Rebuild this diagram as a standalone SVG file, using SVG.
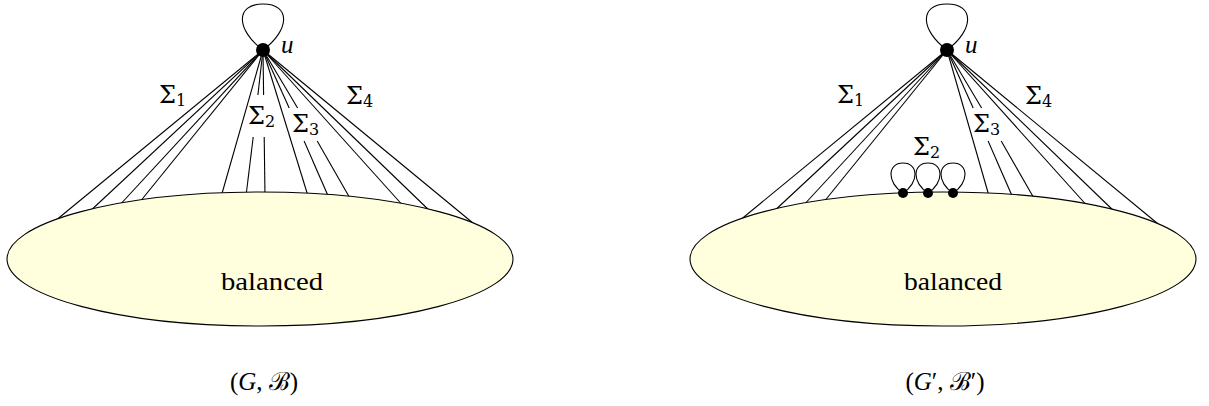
<svg xmlns="http://www.w3.org/2000/svg" width="1209" height="406" viewBox="0 0 1209 406">
<style>
.e{stroke:#000;stroke-width:1.1;fill:none}
.ell{fill:#ffffde;stroke:#000;stroke-width:1.1}
.lp{fill:none;stroke:#000;stroke-width:1.1}
.t{font-family:'Liberation Serif','DejaVu Serif',serif;fill:#000}
.sg{font-family:'DejaVu Serif','Liberation Serif',serif;font-size:24px;fill:#000}
.sb{font-size:16px}
.it{font-style:italic}
</style>
<rect width="1209" height="406" fill="#fff"/>
<!-- LEFT DIAGRAM -->
<g id="left">
<g id="connectors-left">
<line class="e" x1="263" y1="50" x2="49" y2="226"/>
<line class="e" x1="263" y1="50" x2="87" y2="214"/>
<line class="e" x1="263" y1="50" x2="117" y2="208"/>
<line class="e" x1="263" y1="50" x2="139" y2="203"/>
<line class="e" x1="263" y1="50" x2="221" y2="197"/>
<line class="e" x1="263" y1="50" x2="257.9" y2="95"/>
<line class="e" x1="253.2" y1="137" x2="246" y2="196"/>
<line class="e" x1="263" y1="50" x2="263.6" y2="95"/>
<line class="e" x1="264.2" y1="137" x2="265" y2="196"/>
<line class="e" x1="263" y1="50" x2="308" y2="196"/>
<line class="e" x1="263" y1="50" x2="289.2" y2="108"/>
<line class="e" x1="304.1" y1="141" x2="329" y2="198"/>
<line class="e" x1="263" y1="50" x2="297.6" y2="108"/>
<line class="e" x1="317.2" y1="141" x2="351" y2="200"/>
<line class="e" x1="263" y1="50" x2="406" y2="209"/>
<line class="e" x1="263" y1="50" x2="433" y2="214"/>
<line class="e" x1="263" y1="50" x2="479" y2="228"/>
<path class="lp" d="M263 50 C236 30 235 4 263 4 C291 4 290 30 263 50"/>
</g>
<g id="balanced-left">
<ellipse class="ell" cx="260" cy="259" rx="253" ry="67"/>
<text class="t" x="221" y="290" font-size="25" textLength="102" lengthAdjust="spacingAndGlyphs">balanced</text>
</g>
<g id="u-left">
<circle cx="263" cy="50" r="7" fill="#000"/>
<text class="t it" x="281" y="53" font-size="25">u</text>
</g>
<g id="labels-left">
<text class="sg" x="159" y="103">Σ<tspan class="sb" dy="3">1</tspan></text>
<text class="sg" x="248" y="124">Σ<tspan class="sb" dy="3">2</tspan></text>
<text class="sg" x="292" y="132">Σ<tspan class="sb" dy="3">3</tspan></text>
<text class="sg" x="346" y="104">Σ<tspan class="sb" dy="3">4</tspan></text>
<text class="t" x="264" y="390" font-size="25" text-anchor="middle">(<tspan class="it">G</tspan>, ℬ)</text>
</g>
</g>
<!-- RIGHT DIAGRAM -->
<g id="right" transform="translate(684,0)">
<g id="connectors-right">
<line class="e" x1="263" y1="50" x2="49" y2="226"/>
<line class="e" x1="263" y1="50" x2="87" y2="214"/>
<line class="e" x1="263" y1="50" x2="117" y2="208"/>
<line class="e" x1="263" y1="50" x2="139" y2="203"/>
<line class="e" x1="263" y1="50" x2="305" y2="196"/>
<line class="e" x1="263" y1="50" x2="289.2" y2="108"/>
<line class="e" x1="304.1" y1="141" x2="329" y2="198"/>
<line class="e" x1="263" y1="50" x2="297.6" y2="108"/>
<line class="e" x1="317.2" y1="141" x2="351" y2="200"/>
<line class="e" x1="263" y1="50" x2="406" y2="209"/>
<line class="e" x1="263" y1="50" x2="433" y2="214"/>
<line class="e" x1="263" y1="50" x2="479" y2="228"/>
<path class="lp" d="M263 50 C236 30 235 4 263 4 C291 4 290 30 263 50"/>
</g>
<g id="balanced-right">
<ellipse class="ell" cx="259" cy="259" rx="253" ry="67"/>
<text class="t" x="220" y="290" font-size="25" textLength="98" lengthAdjust="spacingAndGlyphs">balanced</text>
</g>
<g id="u-right">
<circle cx="263" cy="50" r="7" fill="#000"/>
<text class="t it" x="281" y="53" font-size="25">u</text>
</g>
<g id="loops-right">
<path class="lp" d="M219 193 C203 183 203 163 219 163 C235 163 235 183 219 193"/>
<path class="lp" d="M244 193 C228 183 228 163 244 163 C260 163 260 183 244 193"/>
<path class="lp" d="M269 193 C253 183 253 163 269 163 C285 163 285 183 269 193"/>
<circle cx="219" cy="193" r="5" fill="#000"/>
<circle cx="244" cy="193" r="5" fill="#000"/>
<circle cx="269" cy="193" r="5" fill="#000"/>
</g>
<g id="labels-right">
<text class="sg" x="153" y="103">Σ<tspan class="sb" dy="3">1</tspan></text>
<text class="sg" x="229" y="155">Σ<tspan class="sb" dy="3">2</tspan></text>
<text class="sg" x="289" y="132">Σ<tspan class="sb" dy="3">3</tspan></text>
<text class="sg" x="341" y="104">Σ<tspan class="sb" dy="3">4</tspan></text>
<text class="t" x="261" y="390" font-size="25" text-anchor="middle">(<tspan class="it">G</tspan>′, ℬ′)</text>
</g>
</g>
</svg>
